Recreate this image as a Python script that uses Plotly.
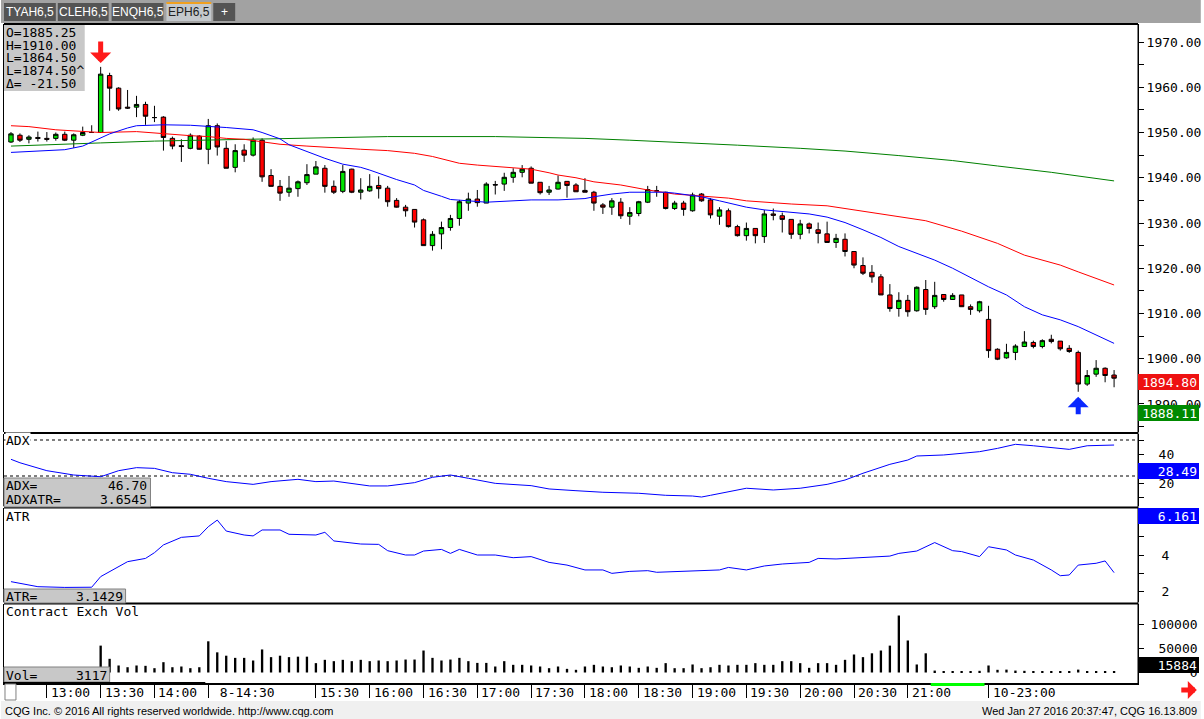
import plotly.graph_objects as go

# EPH6,5 - 5 minute bars, bar 0 = 12:40
bar_idx = list(range(124))
opens = [
    1947.9, 1949.4, 1948.5, 1948.9, 1948.7, 1948.7, 1949.6, 1948.3, 1949.4, 1950.0,
    1950.0, 1962.6, 1959.8, 1955.6, 1955.6, 1956.2, 1953.3, 1953.4, 1948.7, 1947.1,
    1946.5, 1949.2, 1946.3, 1951.5, 1946.5, 1942.3, 1946.1, 1945.0, 1948.3, 1940.5,
    1938.1, 1936.8, 1937.6, 1938.9, 1940.8, 1942.1, 1938.1, 1937.0, 1941.9, 1936.8,
    1937.1, 1938.3, 1937.7, 1935.0, 1933.5, 1933.0, 1930.7, 1925.0, 1927.6, 1929.0,
    1931.0, 1934.4, 1935.3, 1934.4, 1938.5, 1938.6, 1940.1, 1941.2, 1942.1, 1939.0,
    1936.8, 1937.5, 1939.2, 1938.4, 1937.2, 1936.8, 1934.0, 1933.5, 1934.6, 1931.5,
    1932.1, 1934.6, 1937.1, 1936.8, 1933.2, 1934.4, 1932.7, 1936.4, 1935.1, 1931.5,
    1932.7, 1929.2, 1927.2, 1928.8, 1927.0, 1932.0, 1931.6, 1930.8, 1927.5, 1929.8,
    1928.5, 1927.6, 1925.7, 1926.4, 1923.7, 1920.6, 1919.1, 1918.1, 1914.1, 1911.1,
    1912.9, 1910.6, 1915.3, 1911.5, 1914.2, 1913.1, 1914.1, 1911.5, 1910.6, 1908.7,
    1902.1, 1900.2, 1901.4, 1902.7, 1903.6, 1902.7, 1904.3, 1903.9, 1902.3, 1901.4,
    1894.4, 1896.6, 1897.9, 1896.4,
]
highs = [
    1950.1, 1949.8, 1949.4, 1950.2, 1950.1, 1950.0, 1950.2, 1949.8, 1951.3, 1951.6,
    1964.5, 1963.2, 1960.0, 1959.4, 1958.1, 1956.8, 1955.9, 1953.6, 1949.1, 1948.5,
    1949.8, 1949.4, 1953.0, 1952.0, 1948.1, 1947.4, 1947.4, 1948.9, 1948.7, 1941.9,
    1939.5, 1940.4, 1939.4, 1943.0, 1943.7, 1942.8, 1939.4, 1942.8, 1942.0, 1939.9,
    1940.8, 1940.3, 1938.2, 1935.5, 1934.0, 1933.0, 1931.0, 1928.2, 1930.3, 1931.8,
    1935.1, 1936.7, 1937.3, 1939.0, 1939.3, 1941.1, 1942.1, 1942.8, 1942.5, 1939.0,
    1938.2, 1940.5, 1939.2, 1938.8, 1939.9, 1937.1, 1934.4, 1935.5, 1935.5, 1933.5,
    1934.9, 1938.2, 1938.2, 1936.9, 1934.9, 1934.9, 1936.7, 1936.6, 1935.5, 1933.5,
    1933.2, 1929.6, 1930.1, 1928.8, 1932.9, 1933.2, 1932.3, 1930.8, 1930.7, 1930.1,
    1930.1, 1930.3, 1927.6, 1927.7, 1923.7, 1922.4, 1920.7, 1918.7, 1916.5, 1914.7,
    1914.1, 1916.0, 1917.4, 1917.0, 1914.2, 1914.5, 1914.1, 1912.0, 1912.8, 1911.7,
    1902.3, 1903.3, 1903.2, 1906.1, 1904.0, 1904.3, 1905.3, 1903.9, 1903.0, 1901.8,
    1897.5, 1899.7, 1898.1, 1897.5,
]
lows = [
    1947.7, 1947.9, 1947.6, 1948.0, 1948.0, 1948.2, 1948.1, 1946.6, 1949.2, 1949.9,
    1949.9, 1954.8, 1954.8, 1955.2, 1953.4, 1951.7, 1952.3, 1946.0, 1946.3, 1943.5,
    1946.3, 1946.2, 1943.0, 1944.9, 1942.1, 1941.2, 1943.5, 1944.7, 1939.1, 1938.1,
    1934.9, 1935.8, 1935.8, 1938.4, 1940.8, 1936.7, 1936.4, 1936.6, 1936.6, 1935.2,
    1936.9, 1935.4, 1933.6, 1933.4, 1931.4, 1929.0, 1925.0, 1923.9, 1924.2, 1928.3,
    1929.4, 1932.7, 1933.6, 1934.4, 1936.3, 1937.1, 1938.9, 1940.1, 1938.8, 1936.3,
    1936.2, 1937.4, 1935.6, 1936.9, 1936.8, 1932.7, 1932.0, 1931.8, 1930.9, 1929.6,
    1931.5, 1934.4, 1935.8, 1933.0, 1932.9, 1931.6, 1932.5, 1934.7, 1931.0, 1929.6,
    1929.0, 1927.0, 1926.1, 1925.5, 1925.6, 1930.6, 1927.9, 1926.5, 1926.4, 1927.7,
    1925.5, 1925.7, 1924.5, 1922.6, 1920.0, 1918.5, 1916.8, 1914.1, 1910.4, 1909.3,
    1909.3, 1910.4, 1909.7, 1911.0, 1912.6, 1913.0, 1911.5, 1909.7, 1910.2, 1900.2,
    1899.7, 1900.0, 1899.7, 1902.7, 1902.3, 1902.3, 1903.4, 1901.8, 1901.3, 1892.7,
    1894.0, 1896.0, 1894.8, 1893.7,
]
closes = [
    1949.7, 1948.3, 1949.0, 1948.7, 1948.5, 1949.6, 1948.3, 1949.5, 1950.0, 1950.0,
    1962.9, 1959.8, 1955.2, 1955.4, 1956.2, 1953.6, 1953.3, 1948.9, 1947.0, 1946.9,
    1949.4, 1946.3, 1951.5, 1946.8, 1942.1, 1946.0, 1945.0, 1948.3, 1940.2, 1938.1,
    1936.6, 1937.7, 1939.1, 1940.7, 1942.4, 1938.1, 1936.8, 1941.4, 1936.8, 1937.3,
    1938.1, 1937.6, 1934.7, 1933.5, 1932.7, 1930.2, 1925.0, 1927.5, 1929.0, 1931.0,
    1934.7, 1935.3, 1934.5, 1938.6, 1938.4, 1940.1, 1941.2, 1941.9, 1938.8, 1936.7,
    1937.3, 1939.0, 1938.3, 1936.9, 1936.8, 1934.4, 1933.5, 1934.9, 1931.6, 1932.3,
    1934.7, 1937.4, 1937.1, 1933.2, 1934.4, 1933.0, 1936.2, 1934.9, 1931.8, 1932.9,
    1929.2, 1927.2, 1928.8, 1927.2, 1932.0, 1931.7, 1930.8, 1927.5, 1929.8, 1928.8,
    1927.7, 1925.7, 1926.6, 1923.7, 1920.7, 1918.9, 1918.1, 1914.1, 1911.1, 1912.9,
    1910.4, 1915.8, 1910.9, 1914.0, 1913.1, 1914.0, 1911.5, 1910.9, 1912.6, 1901.8,
    1899.9, 1901.4, 1902.8, 1903.7, 1902.7, 1904.0, 1903.8, 1902.2, 1901.6, 1894.4,
    1896.3, 1897.9, 1896.3, 1895.7,
]
volume = [
    2600, 2300, 2000, 2800, 2400, 2200, 2700, 2500, 3000, 3100,
    56000, 28500, 14600, 11000, 14600, 13900, 9000, 21500, 11000, 12500,
    9000, 11000, 65000, 42000, 35000, 30500, 30500, 25000, 48000, 32000,
    35000, 32000, 33000, 33000, 19500, 26400, 23600, 26400, 23600, 26400,
    23600, 25000, 23600, 25000, 27000, 27000, 45800, 30500, 25000, 27000,
    30500, 23600, 20000, 20000, 12500, 23600, 16000, 16000, 14600, 12500,
    9000, 12500, 7600, 5600, 12500, 16000, 12500, 11000, 14600, 12500,
    9700, 12500, 9700, 19500, 9000, 9000, 16700, 9000, 11000, 16000,
    14600, 16000, 16000, 19500, 16000, 16000, 23600, 23600, 19500, 9700,
    19500, 19500, 16000, 26400, 37500, 32000, 40000, 45800, 56000, 118700,
    66700, 16700, 40000, 4000, 3000, 3000, 3000, 3000, 3500, 14600,
    5600, 6000, 4000, 3500, 3000, 3000, 3000, 3000, 3000, 6000,
    3000, 3000, 3000, 3000,
]

# moving averages, read at a subset of bars
blue_idx = [0, 4, 6, 8, 10, 11, 13, 14, 17, 20, 24, 27, 28, 30, 31, 33, 35, 37, 39, 40,
            42, 43, 45, 46, 48, 49, 53, 56, 58, 61, 63, 64, 65, 67, 69, 73, 74, 77, 79, 81,
            82, 84, 87, 89, 91, 93, 95, 97, 99, 101, 103, 105, 107, 109, 111, 113, 115, 117,
            119, 121, 123]
blue_val = [1945.6, 1945.9, 1946.2, 1947.0, 1948.9, 1949.7, 1951.0, 1951.5, 1951.7, 1951.6,
            1951.1, 1950.6, 1950.0, 1948.6, 1947.3, 1945.8, 1944.3, 1943.0, 1942.3, 1941.7,
            1940.3, 1939.6, 1938.4, 1937.2, 1935.9, 1935.2, 1934.6, 1934.9, 1935.1, 1935.1,
            1935.2, 1935.4, 1935.8, 1936.4, 1936.8, 1936.8, 1936.6, 1935.8, 1934.9, 1934.0,
            1933.5, 1932.9, 1932.3, 1932.0, 1931.3, 1930.1, 1928.5, 1926.8, 1924.8, 1923.3,
            1921.8, 1920.0, 1918.0, 1915.9, 1914.1, 1911.5, 1909.7, 1908.6, 1907.1, 1905.2,
            1903.4]
red_idx = [0, 2, 5, 8, 10, 14, 17, 20, 22, 24, 26, 28, 30, 33, 36, 39, 42, 45, 47, 50,
           52, 56, 58, 60, 61, 63, 65, 68, 71, 74, 77, 80, 82, 84, 87, 91, 94, 98, 102, 106,
           110, 113, 117, 119, 121, 123]
red_val = [1951.5, 1951.3, 1950.6, 1950.2, 1950.0, 1950.2, 1949.7, 1949.3, 1949.1, 1948.7,
           1948.5, 1948.0, 1947.4, 1947.0, 1946.6, 1946.3, 1946.0, 1945.4, 1944.7, 1943.2,
           1942.8, 1942.3, 1941.9, 1941.1, 1940.6, 1940.0, 1939.1, 1938.4, 1937.3, 1936.4,
           1936.0, 1935.5, 1934.9, 1934.6, 1934.2, 1933.8, 1932.9, 1931.8, 1930.5, 1928.2,
           1925.5, 1922.9, 1920.7, 1919.2, 1917.8, 1916.3]
green_idx = [0, 7, 10, 16, 21, 28, 36, 42, 54, 64, 69, 75, 77, 80, 81, 88, 93, 99, 105, 110,
             116, 123]
green_val = [1947.0, 1947.4, 1947.7, 1948.1, 1948.3, 1948.7, 1948.9, 1949.1, 1949.1, 1948.7,
             1948.3, 1947.8, 1947.6, 1947.4, 1947.2, 1946.5, 1945.9, 1944.9, 1943.8, 1942.6,
             1941.2, 1939.3]

adx_idx = [0, 1, 4, 7, 10, 12, 14, 16, 18, 20, 22, 24, 27, 29, 32, 34, 36, 40, 42, 45,
           47, 49, 51, 54, 58, 60, 63, 66, 70, 73, 76, 77, 78, 82, 85, 88, 91, 93, 95, 98,
           100, 101, 104, 108, 110, 112, 114, 118, 120, 123]
adx_val = [36.6, 34.2, 28.7, 25.7, 24.5, 28.7, 30.8, 30.3, 27.3, 26.2, 23.4, 21.1, 19.2, 21.1,
           22.7, 21.1, 21.5, 18.1, 18.1, 20.4, 24.1, 25.7, 23.4, 19.9, 18.3, 16.0, 14.8, 13.7,
           13.0, 11.6, 11.1, 10.4, 11.6, 16.5, 15.3, 16.5, 19.2, 22.2, 26.9, 33.1, 36.1, 38.9,
           39.6, 41.9, 44.2, 47.0, 46.0, 43.5, 46.0, 46.5]

atr_idx = [0, 1, 3, 6, 9, 10, 12, 13, 15, 16, 17, 19, 21, 22, 23, 24, 26, 27, 28, 30,
           31, 34, 35, 36, 39, 41, 42, 44, 45, 46, 48, 49, 50, 52, 54, 56, 58, 60, 62, 64,
           66, 67, 69, 71, 72, 74, 76, 79, 80, 82, 84, 86, 89, 90, 92, 95, 98, 99, 101, 103,
           105, 106, 108, 109, 111, 112, 114, 116, 117, 118, 119, 121, 122, 123]
atr_val = [2.52, 2.43, 2.24, 2.20, 2.21, 2.80, 3.35, 3.63, 3.81, 4.13, 4.56, 4.98, 5.06, 5.57,
           5.94, 5.33, 5.11, 5.06, 5.39, 5.39, 5.15, 5.11, 5.26, 4.78, 4.61, 4.59, 4.24, 4.00,
           4.00, 4.22, 4.31, 4.09, 4.31, 4.00, 4.00, 3.85, 3.91, 3.59, 3.44, 3.17, 3.17, 2.98,
           3.09, 3.13, 3.04, 3.07, 3.11, 3.17, 3.31, 3.17, 3.39, 3.50, 3.59, 3.81, 3.78, 3.85,
           3.94, 4.09, 4.22, 4.69, 4.24, 4.19, 3.91, 4.46, 4.28, 4.00, 3.72, 3.17, 2.85, 2.89,
           3.44, 3.54, 3.67, 3.02]

time_ticks = [4, 10, 16, 22, 34, 40, 46, 52, 58, 64, 70, 76, 82, 88, 94, 100, 109]
time_labels = ["13:00", "13:30", "14:00", "\u00a08-14:30", "15:30", "16:00", "16:30", "17:00",
               "17:30", "18:00", "18:30", "19:00", "19:30", "20:00", "20:30", "21:00", "10-23:00"]

price_ticks = [1885 + 5 * k for k in range(18)]
price_text = ["%.2f" % p if p % 10 == 0 else "" for p in price_ticks]

# page geometry (pixels)
W, H = 1204, 719
ML, MR, MT, MB = 3, 63, 24, 36
PW, PH = W - ML - MR, H - MT - MB


def fx(px):
    return (px - ML) / PW


def fy(py):
    return (H - MB - py) / PH


mono = dict(family="DejaVu Sans Mono", size=13, color="black")
sans = dict(family="Liberation Sans", size=11, color="black")

fig = go.Figure()

fig.add_trace(go.Candlestick(
    x=bar_idx, open=opens, high=highs, low=lows, close=closes,
    increasing=dict(fillcolor="#00e400", line=dict(color="black", width=1)),
    decreasing=dict(fillcolor="#ff0000", line=dict(color="black", width=1)),
    whiskerwidth=0, xaxis="x", yaxis="y", hoverinfo="skip",
))
for ix, vals, col in [(green_idx, green_val, "#008000"),
                      (red_idx, red_val, "#ff0000"),
                      (blue_idx, blue_val, "#0000ff")]:
    fig.add_trace(go.Scatter(x=ix, y=vals, mode="lines", line=dict(color=col, width=1),
                             xaxis="x", yaxis="y", hoverinfo="skip"))

fig.add_trace(go.Scatter(x=adx_idx, y=adx_val, mode="lines", line=dict(color="#0000ff", width=1),
                         xaxis="x", yaxis="y2", hoverinfo="skip"))
fig.add_trace(go.Scatter(x=atr_idx, y=atr_val, mode="lines", line=dict(color="#0000ff", width=1),
                         xaxis="x", yaxis="y3", hoverinfo="skip"))
fig.add_trace(go.Bar(x=bar_idx, y=volume, width=0.26, marker=dict(color="black", line=dict(width=0)),
                     xaxis="x", yaxis="y4", hoverinfo="skip"))

yax = dict(side="right", showgrid=False, zeroline=False, showline=True, mirror=True,
           linecolor="black", linewidth=1, ticks="outside", ticklen=5, tickcolor="black",
           tickfont=mono, anchor="x", fixedrange=True)
# small inside ticks along the left edge of every panel
lax = dict(side="left", showgrid=False, zeroline=False, showline=False, showticklabels=False,
           ticks="inside", ticklen=4, tickcolor="black", anchor="x", fixedrange=True)

price_range = [1883.81, 1973.98]
adx_range = [4.17, 54.17]
atr_range = [1.39, 6.61]
vol_range = [-21875, 142708]

fig.update_layout(
    width=W, height=H,
    margin=dict(l=ML, r=MR, t=MT, b=MB, pad=0),
    paper_bgcolor="white", plot_bgcolor="white",
    showlegend=False,
    xaxis=dict(domain=[0, 1], range=[-0.778, 125.667], anchor="y4",
               showgrid=False, zeroline=False, showline=True, linecolor="black", linewidth=2,
               tickvals=time_ticks, ticks="outside", ticklen=13, tickcolor="black",
               showticklabels=False, rangeslider=dict(visible=False), fixedrange=True),
    yaxis=dict(yax, domain=[fy(432), 1], range=price_range,
               tickvals=price_ticks, ticktext=price_text),
    yaxis2=dict(yax, domain=[fy(506), fy(434)], range=adx_range,
                tickvals=[10, 20, 30, 40, 50], ticktext=["", "20", "", "40", ""],
                ticklabelstandoff=12),
    yaxis3=dict(yax, domain=[fy(602), fy(508)], range=atr_range,
                tickvals=[2, 3, 4, 5, 6], ticktext=["2", "", "4", "", ""],
                ticklabelstandoff=15),
    yaxis4=dict(yax, domain=[0, fy(604)], range=vol_range,
                tickvals=[0, 50000, 100000],
                ticktext=["\u00a0" * 5 + "0", "\u00a050000", "100000"],
                ticklabelstandoff=4),
    yaxis5=dict(lax, overlaying="y", range=price_range, tickvals=price_ticks),
    yaxis6=dict(lax, overlaying="y2", range=adx_range, tickvals=[11.8, 18.8, 25.7, 32.6, 39.6, 46.5]),
    yaxis7=dict(lax, overlaying="y3", range=atr_range, tickvals=[2, 3, 4, 5, 6]),
    yaxis8=dict(lax, overlaying="y4", range=vol_range, tickvals=[25000, 50000, 75000, 100000, 125000]),
)

shapes = []
ann = []


def box(x0, y0, x1, y1, fill, line=None, lw=0, layer="above"):
    shapes.append(dict(type="rect", xref="paper", yref="paper", x0=fx(x0), x1=fx(x1),
                       y0=fy(y1), y1=fy(y0), fillcolor=fill, layer=layer,
                       line=dict(color=line or fill, width=lw)))


def text(px, py, s, anchor="left", font=mono, bg=None, h=None):
    ann.append(dict(xref="paper", yref="paper", x=fx(px), y=fy(py), text=s, showarrow=False,
                    xanchor=anchor, yanchor="middle", font=font, bgcolor=bg, borderpad=0,
                    height=h))


# tab bar
box(0, 0, W, 23, "#a2a2a2")
for x0, x1, label, active in [(3, 55, "TYAH6,5", False), (57, 108, "CLEH6,5", False),
                              (111, 163, "ENQH6,5", False), (166, 211, "EPH6,5", True),
                              (213, 235, "+", False)]:
    box(x0, 3, x1, 21, "#c4c8cc" if active else "#545454")
    if active:
        box(x0, 2, x1, 4, "#f0a020")
    text((x0 + x1) / 2, 12, label, anchor="center",
         font=dict(family="Liberation Sans", size=12, color="#202020" if active else "white"))

# panel separators
for py in [24, 433, 507.5, 603.5]:
    shapes.append(dict(type="line", xref="paper", yref="paper", x0=0, x1=1, y0=fy(py), y1=fy(py),
                       line=dict(color="black", width=2)))
shapes.append(dict(type="line", xref="paper", yref="paper", x0=1, x1=1, y0=0, y1=1,
                   line=dict(color="black", width=1)))

# ADX reference levels
for lvl in [25, 50]:
    shapes.append(dict(type="line", xref="paper", yref="y2", x0=0, x1=1, y0=lvl, y1=lvl,
                       layer="below", line=dict(color="black", width=1, dash="dot")))

# info box, top left
box(3, 25, 84, 91, "#c8c8c8")
for k, s in enumerate(["O=1885.25", "H=1910.00", "L=1864.50", "L=1874.50^", "\u0394= -21.50"]):
    text(4, 32 + 12.7 * k, s, h=12)

# study value boxes
box(3, 478, 150, 507, "#c8c8c8", "#808080", 1)
text(4, 485, "ADX=", h=13)
text(148, 485, "46.70", anchor="right", h=13)
text(4, 499.5, "ADXATR=", h=13)
text(148, 499.5, "3.6545", anchor="right", h=13)
box(3, 589, 125, 603, "#c8c8c8", "#808080", 1)
text(4, 596, "ATR=")
text(123, 596, "3.1429", anchor="right")
box(3, 667, 109, 682, "#c8c8c8", "#808080", 1)
text(4, 675, "Vol=")
text(107, 675, "3117", anchor="right")

text(4, 440, "ADX", bg="white")
text(4, 516, "ATR")
text(4, 611, "Contract Exch Vol")

# time axis decorations
box(3, 682, 205, 685, "black")
box(933, 683, 987, 686, "#00ff00")
box(4, 684, 15, 700, "white", "#808080", 1)
for t, lab in zip(time_ticks, time_labels):
    ann.append(dict(xref="x", yref="paper", x=t, y=fy(692), text=lab, showarrow=False,
                    xanchor="left", yanchor="middle", xshift=2, font=mono))

# footer
box(0, 701, W, H, "#f0f0f0")
text(3, 711, "CQG Inc. \u00a9 2016 All rights reserved worldwide. http://www.cqg.com", font=sans)
text(1201, 711, "Wed Jan 27 2016 20:37:47, CQG 16.13.809", anchor="right", font=sans)

# right axis value tags
for yref, val, s, bg in [("y", 1894.80, "1894.80", "#ee1111"), ("y", 1888.11, "1888.11", "#008a00"),
                         ("y2", 28.49, "28.49", "#0000ff"), ("y3", 6.161, "6.161", "#0000ff"),
                         ("y4", 15884, "15884", "black")]:
    ann.append(dict(xref="paper", yref=yref, x=1, y=val, text=s, showarrow=False,
                    xanchor="left", yanchor="middle", width=57, height=12, align="right",
                    bgcolor=bg, bordercolor=bg, borderwidth=1, borderpad=1,
                    font=dict(family="DejaVu Sans Mono", size=13, color="white")))

# signal arrows
ann.append(dict(xref="x", yref="y", x=10, y=highs[10], ax=0, ay=-27, showarrow=True,
                arrowhead=1, arrowsize=0.7, arrowwidth=5, arrowcolor="#ff1a1a", standoff=4, text=""))
ann.append(dict(xref="x", yref="y", x=119, y=lows[119], ax=0, ay=24, showarrow=True,
                arrowhead=1, arrowsize=0.7, arrowwidth=5, arrowcolor="#0a28ff", standoff=5, text=""))
ann.append(dict(xref="paper", yref="paper", x=fx(1200), y=fy(690), ax=-17, ay=0, showarrow=True,
                arrowhead=1, arrowsize=0.6, arrowwidth=5, arrowcolor="#ff1a1a", text=""))

fig.update_layout(shapes=shapes, annotations=ann)

# the page body has a default 8px margin; remove it so the figure fills the window
fig.write_html("out.html", config={"displayModeBar": False},
               post_script="document.body.style.margin='0';")
